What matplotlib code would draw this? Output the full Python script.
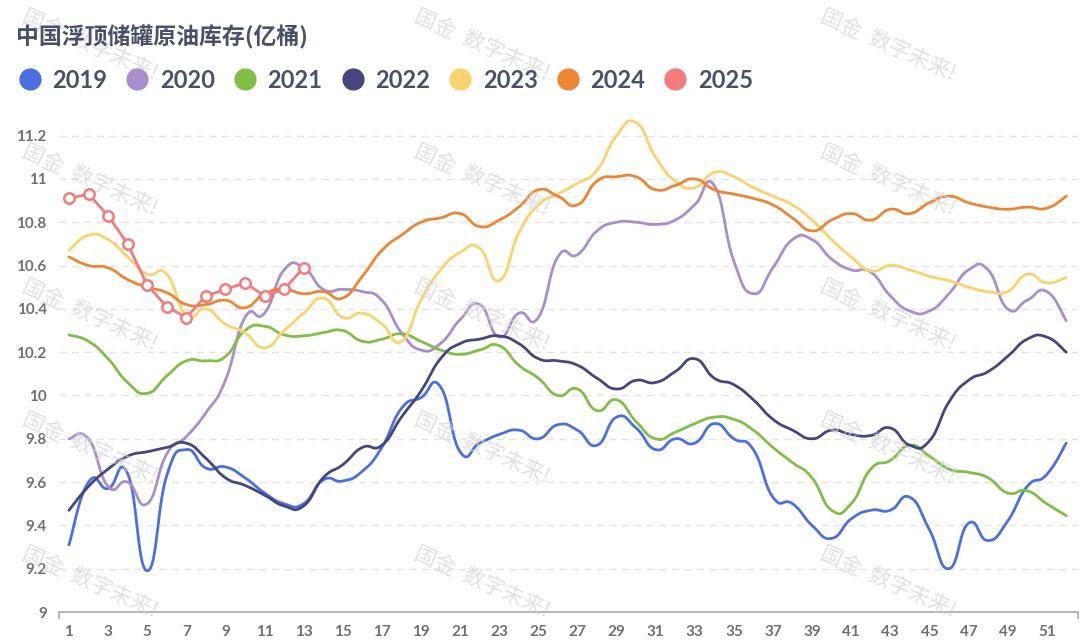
import numpy as np
import matplotlib
matplotlib.use("Agg")
import matplotlib.pyplot as plt
from matplotlib.lines import Line2D

plt.rcParams['font.family'] = ['Lato', 'Noto Sans CJK SC', 'DejaVu Sans']

weeks = list(range(1, 53))

y2019 = [9.31, 9.60, 9.57, 9.64, 9.19, 9.63, 9.75, 9.665, 9.67, 9.62, 9.55, 9.50, 9.50,
         9.61, 9.605, 9.65, 9.76, 9.94, 9.99, 10.04, 9.74, 9.78, 9.82, 9.84, 9.80, 9.865,
         9.84, 9.77, 9.90, 9.85, 9.75, 9.80, 9.78, 9.87, 9.80, 9.75, 9.53, 9.50, 9.40,
         9.34, 9.43, 9.47, 9.47, 9.53, 9.38, 9.20, 9.41, 9.33, 9.42, 9.58, 9.635, 9.78]
y2020 = [9.80, 9.80, 9.58, 9.60, 9.50, 9.73, 9.81, 9.92, 10.07, 10.36, 10.38, 10.58, 10.59,
         10.49, 10.49, 10.48, 10.44, 10.29, 10.21, 10.24, 10.35, 10.42, 10.27, 10.38, 10.36,
         10.64, 10.65, 10.76, 10.80, 10.80, 10.79, 10.81, 10.88, 10.97, 10.62, 10.47, 10.59,
         10.72, 10.72, 10.63, 10.58, 10.57, 10.46, 10.39, 10.39, 10.47, 10.58, 10.58, 10.40,
         10.44, 10.48, 10.345]
y2021 = [10.28, 10.25, 10.17, 10.06, 10.01, 10.09, 10.16, 10.16, 10.18, 10.30, 10.32, 10.28,
         10.275, 10.29, 10.30, 10.25, 10.26, 10.285, 10.25, 10.21, 10.19, 10.21, 10.23, 10.14,
         10.08, 10.00, 10.03, 9.93, 9.98, 9.88, 9.80, 9.83, 9.87, 9.90, 9.89, 9.84, 9.76,
         9.69, 9.62, 9.47, 9.50, 9.66, 9.70, 9.77, 9.72, 9.66, 9.645, 9.62, 9.55, 9.56, 9.50,
         9.445]
y2022 = [9.47, 9.58, 9.66, 9.72, 9.74, 9.76, 9.78, 9.71, 9.62, 9.585, 9.54, 9.49, 9.49,
         9.62, 9.68, 9.76, 9.77, 9.90, 10.02, 10.17, 10.24, 10.26, 10.275, 10.24, 10.17, 10.16,
         10.14, 10.08, 10.03, 10.07, 10.06, 10.11, 10.17, 10.08, 10.05, 9.98, 9.89, 9.84, 9.80,
         9.84, 9.82, 9.815, 9.85, 9.77, 9.79, 9.97, 10.07, 10.11, 10.18, 10.26, 10.27, 10.20]
y2023 = [10.67, 10.74, 10.72, 10.64, 10.56, 10.56, 10.37, 10.40, 10.33, 10.29, 10.22, 10.30,
         10.38, 10.45, 10.36, 10.38, 10.33, 10.25, 10.44, 10.58, 10.66, 10.68, 10.53, 10.75,
         10.88, 10.93, 10.98, 11.04, 11.20, 11.26, 11.10, 10.99, 10.96, 11.03, 11.01, 10.96,
         10.92, 10.88, 10.81, 10.72, 10.64, 10.575, 10.60, 10.58, 10.55, 10.53, 10.50, 10.48,
         10.48, 10.56, 10.52, 10.545]
y2024 = [10.64, 10.60, 10.59, 10.535, 10.50, 10.475, 10.42, 10.42, 10.44, 10.405, 10.47,
         10.49, 10.47, 10.48, 10.45, 10.55, 10.67, 10.74, 10.80, 10.82, 10.84, 10.78, 10.81,
         10.87, 10.95, 10.92, 10.88, 10.99, 11.01, 11.01, 10.95, 10.97, 11.00, 10.95, 10.93,
         10.91, 10.88, 10.82, 10.76, 10.81, 10.84, 10.81, 10.86, 10.84, 10.89, 10.92, 10.89,
         10.87, 10.86, 10.87, 10.865, 10.92]
y2025 = [10.91, 10.93, 10.83, 10.70, 10.51, 10.41, 10.36, 10.46, 10.49, 10.52, 10.46, 10.49, 10.59]

years = ['2019', '2020', '2021', '2022', '2023', '2024', '2025']
series = [y2019, y2020, y2021, y2022, y2023, y2024, y2025]
colors = ['#4a6fe3', '#a88fcc', '#80bf45', '#46467e', '#fad26e', '#ee8533', '#f47b7b']


def smooth(x, y, n=16, k=0.25):
    # bezier smoothing similar to echarts "smooth: true"
    x = np.asarray(x, float)
    y = np.asarray(y, float)
    pts = np.column_stack([x, y])
    out = []
    for i in range(len(pts) - 1):
        p0 = pts[i]
        p1 = pts[i + 1]
        prev = pts[i - 1] if i > 0 else p0
        nxt = pts[i + 2] if i + 2 < len(pts) else p1
        c1 = p0 + k * (p1 - prev)
        c2 = p1 - k * (nxt - p0)
        t = np.linspace(0, 1, n)[:, None]
        seg = ((1 - t) ** 3) * p0 + 3 * ((1 - t) ** 2) * t * c1 + 3 * (1 - t) * t ** 2 * c2 + t ** 3 * p1
        out.append(seg if i == 0 else seg[1:])
    out = np.vstack(out)
    return out[:, 0], out[:, 1]


fig = plt.figure(figsize=(10.82, 6.41), dpi=100)
ax = fig.add_axes([0.0547, 0.0452, 0.9416, 0.777])

for i, (yr, ys, c) in enumerate(zip(years, series, colors)):
    xs = weeks[:len(ys)]
    if yr == '2025':
        ax.plot(xs, ys, color=c, lw=2.0, marker='o', markersize=7.5, markerfacecolor='white',
                markeredgewidth=1.8, zorder=10)
    else:
        sx, sy = smooth(xs, ys)
        ax.plot(sx, sy, color=c, lw=2.0, zorder=3 + i, solid_capstyle='round')

ax.set_xlim(0.5, 52.6)
ax.set_ylim(9, 11.3)
ax.set_yticks(np.arange(9, 11.21, 0.2))
ax.set_yticklabels(['%g' % round(v, 1) for v in np.arange(9, 11.21, 0.2)])
ax.set_xticks(weeks[::2])
ax.set_xticks([0.5, 52.6], minor=True)
ax.tick_params(axis='x', which='major', length=0, pad=9, labelsize=11, labelcolor='#6e7079')
ax.tick_params(axis='x', which='minor', length=5, width=1.2, color='#aaaaaa')
ax.tick_params(axis='y', length=0, pad=9, labelsize=11, labelcolor='#6e7079')
for lab in ax.get_xticklabels() + ax.get_yticklabels():
    lab.set_fontweight('bold')

ax.grid(axis='y', color='#e4e4e4', lw=1, linestyle=(0, (5, 4)))
ax.set_axisbelow(True)
for s in ['top', 'right', 'left']:
    ax.spines[s].set_visible(False)
ax.spines['bottom'].set_color('#aaaaaa')
ax.spines['bottom'].set_linewidth(1.2)

# watermark
for wx in [90, 482, 888]:
    for wy in [45, 180, 315, 448, 582]:
        fig.text(wx / 1082, 1 - wy / 641, '国金  数字未来!', fontsize=15.5, color='#d4d4d4',
                 rotation=-24, ha='center', va='center', alpha=0.7,
                 family=['Noto Sans CJK SC', 'DejaVu Sans'], zorder=0)

fig.text(0.015, 0.942, '中国浮顶储罐原油库存(亿桶)', fontsize=16.5, color='#4a5068',
         fontweight='bold', va='center', ha='left', family=['Noto Sans CJK SC', 'DejaVu Sans'])

handles = [Line2D([], [], marker='o', linestyle='', markersize=15, color=c) for c in colors]
fig.legend(handles, years, loc='center left', bbox_to_anchor=(-0.003, 0.875), ncol=7,
           frameon=False, handlelength=1.0, handletextpad=0.45, columnspacing=0.78,
           prop={'family': 'Lato', 'weight': 'bold', 'size': 17}, labelcolor='#4a5068')

fig.savefig('out.png', dpi=100)
